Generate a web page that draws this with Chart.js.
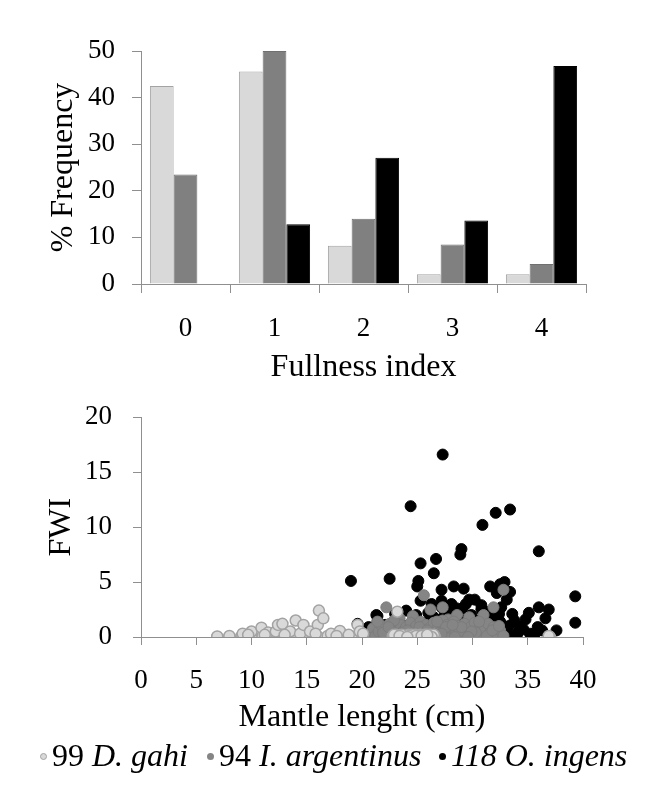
<!DOCTYPE html>
<html>
<head>
<meta charset="utf-8">
<script src="https://cdn.jsdelivr.net/npm/chart.js@4.4.1/dist/chart.umd.min.js"></script>
<style>
  body { margin: 0; background: #fff; width: 656px; height: 812px; position: relative; overflow: hidden;
         font-family: "Liberation Serif", "Times New Roman", serif; color: #000; }
  #barChart { position: absolute; left: 0; top: 0; }
  #fwiChart { position: absolute; left: 0; top: 380px; }
  .key { position: absolute; top: 737px; font-size: 32px; line-height: 37px; white-space: nowrap; }
  .dot { display: inline-block; width: 7px; height: 7px; border-radius: 50%; box-sizing: border-box;
         vertical-align: 6px; margin-right: 5px; }
</style>
</head>
<body>
<canvas id="barChart" width="656" height="400"></canvas>
<canvas id="fwiChart" width="656" height="380"></canvas>

<div class="key" style="left:40px"><span class="dot" style="background:#d9d9d9;border:1.5px solid #a3a3a3"></span>99 <i>D. gahi</i></div>
<div class="key" style="left:207px"><span class="dot" style="background:#858585"></span>94 <i>I. argentinus</i></div>
<div class="key" style="left:439px"><span class="dot" style="background:#000"></span><i>118 O. ingens</i></div>

<script>
// Fullness index frequencies (%) per species
var fullnessIdx = ['0', '1', '2', '3', '4'];
var gahiFreq = [42.5, 45.6, 8.2, 2.1, 2.1];
var argentinusFreq = [23.5, 50.0, 14.0, 8.5, 4.3];
var ingensFreq = [0, 12.8, 27.1, 13.6, 46.8];

// FWI against mantle length, [cm, FWI]
var gahiPts = [
  [6.9,0],[8.0,0],[9.1,0],[10.0,0],[11.0,0],[11.9,0],[12.8,0],[13.7,0],[14.3,0],[15.1,0],
  [16.0,0],[16.9,0],[18.0,0],[19.1,0],
  [6.9,0.05],[8.0,0.1],[9.1,0.1],[10.0,0.05],[11.0,0.1],[11.9,0.1],[12.8,0.05],[13.7,0.1],
  [15.1,0.1],[16.0,0.05],[16.9,0.1],[18.0,0.1],[19.1,0.05],
  [9.2,0.3],[10.0,0.5],[10.9,0.85],[11.5,0.4],[12.2,0.5],[12.4,1.1],[12.8,1.2],[13.5,0.5],
  [14.0,1.5],[14.4,0.3],[14.7,1.1],[15.3,0.5],[16.0,1.1],[16.1,2.4],[16.5,1.7],[17.2,0.3],
  [18.0,0.55],[18.8,0.2],[19.6,1.1],[19.8,0.5],[20.1,0.3],[9.7,0.2],[11.2,0.2],[13.0,0.2],
  [15.8,0.3],[17.7,0.1],
  [22.8,0.1],[23.3,0.1],[24.0,0.1],[25.1,0.1],[25.8,0.1],[26.4,0.1],[23.2,2.3],[37.0,0],
  [22.9,0],[23.1,0.2],[23.5,0],[23.7,0.1],[24.2,0.2],[24.4,0],[24.6,0.1],[24.8,0.2],
  [25.0,0],[25.3,0.2],[25.5,0],[25.7,0.2],[26.0,0],[26.2,0.2],[26.6,0],
  [22.8,0],[23.3,0],[24.0,0],[25.1,0],[25.8,0],[26.4,0],
  [23.0,0.1],[23.9,0],[24.5,0.2],[25.2,0.1],[26.1,0.1],[26.5,0.2],
  [22.9,0.2],[23.6,0.2],[24.3,0.1],[24.9,0.1],[25.6,0.1],[26.3,0],
  [23.4,0.1],[24.1,0],[25.4,0.1],[25.9,0.2],[36.9,0.1]
];
var argentinusPts = [
  [22.2,2.7],[25.6,3.8],[26.2,2.5],[27.3,2.7],[32.8,4.3],[31.9,2.7],[31.0,2.0],[28.6,2.0],
  [29.7,1.8],[24.6,1.9],[23.4,1.7],[27.8,1.6],
  [20.7,0.3],[21.0,0.8],[21.2,0.1],[21.5,0.5],[21.8,1.0],[22.0,0.2],[22.3,0.6],[22.5,1.2],
  [22.7,0.1],[23.0,0.8],[23.2,0.3],[23.5,1.1],[23.7,0.5],[24.0,0.9],[24.2,0.2],[24.4,1.3],
  [24.6,0.6],[24.9,1.0],[25.1,0.3],[25.3,1.4],[25.5,0.7],[25.8,1.1],[26.0,0.2],[26.2,0.9],
  [26.5,1.3],[26.7,0.5],[26.9,1.0],[27.1,0.1],[27.3,1.5],[27.5,0.6],[27.7,1.1],[27.9,0.3],
  [28.1,0.8],[28.3,1.4],[28.5,0.4],[28.7,1.0],[28.9,0.1],[29.1,0.6],[29.3,1.2],[29.5,0.3],
  [29.8,0.9],[30.0,0.2],[30.2,1.3],[30.5,0.6],[30.7,1.0],[30.9,0.2],[31.1,0.7],[31.4,1.2],
  [31.6,0.4],[31.9,0.9],[32.2,0.2],[32.5,0.6],[32.8,0.1],[21.4,1.4],[22.9,1.5],[24.8,0.1],
  [26.4,0.0],[27.0,0.4],[28.8,0.5],[30.3,0.4],[31.3,0.1],[21.9,0.4],[23.9,0.0],[25.7,0.4],
  [26.8,1.4],[28.4,0.0],[29.9,0.5],[31.8,0.6],[22.4,0.9],[24.1,0.6],[25.2,0.9],[27.6,0.9],
  [29.0,0.9],[30.6,1.4],[32.4,1.0],[23.6,0.2],[25.9,0.6],[27.2,0.3],[28.2,1.1],[29.6,0.0]
];
var ingensPts = [
  [27.3,16.6],[24.4,11.9],[32.1,11.3],[33.4,11.6],[30.9,10.2],[36.0,7.8],[29.0,8.0],[28.9,7.5],
  [25.3,6.7],[26.7,7.1],[26.5,5.8],[19.0,5.1],[22.5,5.3],[25.1,5.1],[25.0,4.6],[27.2,4.3],
  [28.3,4.6],[29.2,4.4],[31.6,4.6],[32.5,4.8],[32.9,5.0],[32.2,4.0],[33.4,4.1],[39.3,3.7],
  [25.3,3.3],[27.2,3.3],[28.1,3.0],[29.7,3.4],[30.8,2.9],[29.1,2.6],[32.6,2.7],[35.1,2.2],
  [36.0,2.7],[36.9,2.5],[33.6,2.1],[36.6,1.7],[39.3,1.3],[37.6,0.6],[35.9,0.9],[36.3,0.6],
  [34.6,0.7],[34.1,0.4],[33.6,0.1],[33.0,0.9],[32.5,1.4],[32.3,1.7],[32.4,2.1],[30.8,2.5],
  [31.2,2.3],[21.4,1.9],[21.4,1.4],[19.6,1.2],[24.9,2.0],[30.4,1.5],[30.8,1.1],[29.1,0.7],
  [28.6,0.2],[29.5,0.2],[27.2,2.7],[27.5,2.0],[27.9,1.2],[20.4,0.5],[21.3,2.0],
  [20.1,0.2],[20.6,0.9],[21.0,0.3],[21.8,0.7],[22.1,1.1],[22.6,0.3],[23.1,1.6],[23.5,0.6],
  [23.9,1.0],[24.3,0.3],[24.7,1.5],[25.0,0.8],[25.4,0.1],[25.8,1.3],[26.1,0.5],[26.5,1.8],
  [26.8,0.8],[27.1,0.2],[27.4,1.4],[27.8,0.6],[28.2,2.2],[28.4,1.0],[28.8,1.7],[29.2,1.3],
  [29.6,0.8],[29.9,2.0],[30.1,0.4],[30.5,0.9],[31.0,0.6],[31.3,1.6],[31.7,0.3],[31.9,1.2],
  [32.1,0.6],[32.8,0.4],[33.3,1.0],[33.8,1.5],[34.3,0.9],[35.2,0.3],[26.0,2.2],[24.0,2.4],
  [23.0,2.1],[28.6,2.6],[31.5,2.0],[29.4,3.0],[26.3,3.0],[30.2,3.4],[33.1,3.4],[34.8,1.6],
  [22.9,0.1],[25.6,0.4],[27.6,0.0],[30.7,0.0],[32.6,0.0],[34.0,0.0],[35.6,0.2]
];

var axisGray = '#8f8f8f';
var serif = '"Liberation Serif", "Times New Roman", serif';
var tickFont = { family: serif, size: 27 };
var titleFont = { family: serif, size: 32 };

function toXY(pts) {
  return pts.map(function (p) { return { x: p[0], y: p[1] }; });
}

// Bar chart of fullness index
new Chart(document.getElementById('barChart'), {
  type: 'bar',
  data: {
    labels: fullnessIdx,
    datasets: [
      { data: gahiFreq, backgroundColor: '#d9d9d9', borderColor: '#a3a3a3', borderWidth: 1 },
      { data: argentinusFreq, backgroundColor: '#808080', borderColor: '#707070', borderWidth: 1 },
      { data: ingensFreq, backgroundColor: '#000000', borderColor: '#000000', borderWidth: 1 }
    ]
  },
  options: {
    responsive: false,
    animation: false,
    categoryPercentage: 0.8,
    barPercentage: 1.0,
    layout: { padding: { left: 44, right: 70, top: 51, bottom: 0 } },
    plugins: { legend: { display: false }, tooltip: { enabled: false } },
    scales: {
      x: {
        grid: { drawOnChartArea: false, color: axisGray, tickLength: 9, offset: true },
        border: { color: axisGray },
        ticks: { color: '#000', font: tickFont, padding: 20 },
        title: { display: true, text: 'Fullness index', color: '#000', font: titleFont,
                 padding: { top: 0, bottom: 13 } },
        afterFit: function (s) { s.height = 116; }
      },
      y: {
        min: 0, max: 50,
        grid: { drawOnChartArea: false, color: axisGray, tickLength: 9 },
        border: { color: axisGray },
        ticks: { stepSize: 10, color: '#000', font: tickFont, padding: 17 },
        title: { display: true, text: '% Frequency', color: '#000', font: titleFont,
                 padding: { top: 0, bottom: 0 } },
        afterFit: function (s) { s.width = 97; }
      }
    }
  }
});

// Scatter of FWI vs mantle length
new Chart(document.getElementById('fwiChart'), {
  type: 'scatter',
  data: {
    datasets: [
      { data: toXY(gahiPts), backgroundColor: '#d9d9d9', borderColor: '#a3a3a3', borderWidth: 1.5, pointRadius: 5.5 },
      { data: toXY(argentinusPts), backgroundColor: '#858585', borderColor: '#7c7c7c', borderWidth: 1, pointRadius: 5.5 },
      { data: toXY(ingensPts), backgroundColor: '#000000', borderColor: '#000000', borderWidth: 1, pointRadius: 5.5 }
    ]
  },
  options: {
    responsive: false,
    animation: false,
    layout: { padding: { left: 42, right: 73, top: 28, bottom: 20 } },
    plugins: { legend: { display: false }, tooltip: { enabled: false } },
    scales: {
      x: {
        min: 0, max: 40,
        grid: { drawOnChartArea: false, color: axisGray, tickLength: 8 },
        border: { color: axisGray },
        ticks: { stepSize: 5, color: '#000', font: tickFont, padding: 20, maxRotation: 0 },
        title: { display: true, text: 'Mantle lenght (cm)', color: '#000', font: titleFont,
                 padding: { top: 0, bottom: 3 } },
        afterFit: function (s) { s.height = 103; }
      },
      y: {
        min: 0, max: 20,
        grid: { drawOnChartArea: false, color: axisGray, tickLength: 8 },
        border: { color: axisGray },
        ticks: { stepSize: 5, color: '#000', font: tickFont, padding: 21 },
        title: { display: true, text: 'FWI', color: '#000', font: titleFont,
                 padding: { top: 0, bottom: 0 } },
        afterFit: function (s) { s.width = 99; }
      }
    }
  }
});
</script>
</body>
</html>
